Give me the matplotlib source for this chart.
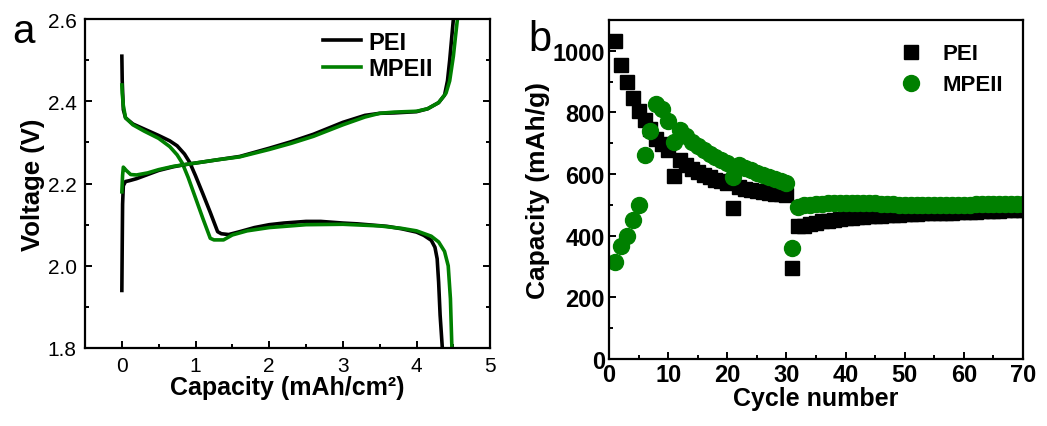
import matplotlib
matplotlib.use("Agg")
import matplotlib.pyplot as plt
from matplotlib.ticker import MultipleLocator

plt.rcParams['font.family'] = ['Liberation Sans', 'DejaVu Sans']

GREEN = '#008000'

# panel a: voltage profiles
pei_dis_cap = [0, 0.005, 0.02, 0.05, 0.15, 0.3, 0.5, 0.65, 0.75, 0.85, 0.92, 1.0, 1.1, 1.2, 1.3, 1.35,
               1.45, 1.6, 1.8, 2.0, 2.2, 2.5, 2.7, 3.0, 3.2, 3.6, 3.8, 4.0, 4.1, 4.2, 4.25, 4.28, 4.30, 4.32, 4.35]
pei_dis_v = [2.51, 2.45, 2.38, 2.36, 2.345, 2.333, 2.317, 2.304, 2.292, 2.272, 2.252, 2.219, 2.175, 2.130, 2.083, 2.078,
             2.076, 2.083, 2.093, 2.100, 2.104, 2.108, 2.108, 2.104, 2.102, 2.096, 2.090, 2.082, 2.074, 2.062, 2.045, 2.017, 1.96, 1.88, 1.8]

mpe_dis_cap = [0, 0.005, 0.02, 0.05, 0.15, 0.3, 0.5, 0.65, 0.75, 0.82, 0.9, 1.0, 1.1, 1.2, 1.25, 1.38,
               1.5, 1.7, 2.0, 2.5, 3.0, 3.5, 3.8, 4.0, 4.2, 4.3, 4.38, 4.43, 4.46, 4.48]
mpe_dis_v = [2.44, 2.42, 2.39, 2.36, 2.343, 2.328, 2.310, 2.290, 2.270, 2.250, 2.215, 2.165, 2.115, 2.067, 2.063, 2.063,
             2.075, 2.085, 2.093, 2.100, 2.101, 2.097, 2.091, 2.085, 2.072, 2.058, 2.035, 2.0, 1.92, 1.8]

pei_chg_cap = [0, 0.005, 0.01, 0.02, 0.05, 0.1, 0.2, 0.35, 0.5, 0.7, 0.85, 1.0, 1.3, 1.6, 2.0, 2.3, 2.6,
               3.0, 3.3, 3.5, 3.7, 4.0, 4.15, 4.3, 4.38, 4.42, 4.45, 4.48, 4.50]
pei_chg_v = [1.94, 2.05, 2.15, 2.195, 2.205, 2.207, 2.212, 2.222, 2.232, 2.241, 2.246, 2.250, 2.258, 2.266, 2.286, 2.302, 2.320,
             2.349, 2.366, 2.371, 2.372, 2.375, 2.382, 2.397, 2.415, 2.45, 2.50, 2.56, 2.60]

mpe_chg_cap = [0, 0.01, 0.02, 0.06, 0.12, 0.2, 0.35, 0.5, 0.7, 0.85, 1.0, 1.3, 1.6, 2.0, 2.3, 2.6,
               3.0, 3.3, 3.5, 3.7, 4.0, 4.15, 4.3, 4.4, 4.45, 4.5, 4.53, 4.555]
mpe_chg_v = [2.18, 2.22, 2.24, 2.232, 2.222, 2.221, 2.226, 2.234, 2.242, 2.246, 2.250, 2.258, 2.265, 2.283, 2.298, 2.315,
             2.343, 2.362, 2.371, 2.374, 2.376, 2.382, 2.397, 2.42, 2.45, 2.51, 2.56, 2.60]

# panel b: cycling
cycles = list(range(1, 71))
pei_cap = [1032, 954, 900, 846, 803, 774, 745, 715, 699, 677,
           595, 645, 628, 615, 605, 597, 589, 582, 576, 570,
           489, 558, 553, 549, 545, 542, 539, 536, 534, 532,
           296, 430, 433, 438, 442, 446, 449, 452, 454, 456,
           458, 460, 461, 463, 464, 465, 466, 467, 468, 469,
           470, 471, 472, 472, 473, 474, 475, 475, 476, 477,
           478, 478, 479, 480, 480, 481, 482, 482, 483, 484]
mpe_cap = [316, 366, 398, 452, 500, 662, 739, 826, 810, 771,
           703, 742, 722, 705, 690, 677, 665, 654, 644, 635,
           590, 629, 620, 612, 604, 597, 590, 584, 577, 571,
           360, 493, 498, 501, 503, 504, 505, 505, 506, 506,
           506, 506, 506, 505, 505, 504, 503, 502, 501, 500,
           500, 499, 499, 499, 499, 499, 500, 500, 500, 501,
           501, 502, 502, 503, 503, 503, 503, 503, 503, 503]

fig = plt.figure(figsize=(10.47, 4.27), dpi=100)

# ---- panel a
ax1 = fig.add_axes([0.0812, 0.1827, 0.387, 0.770])
ax1.plot(pei_dis_cap, pei_dis_v, color='black', lw=2.6, label='PEI')
ax1.plot(mpe_dis_cap, mpe_dis_v, color=GREEN, lw=2.6, label='MPEII')
ax1.plot(pei_chg_cap, pei_chg_v, color='black', lw=2.6)
ax1.plot(mpe_chg_cap, mpe_chg_v, color=GREEN, lw=2.6)
ax1.set_xlim(-0.5, 5)
ax1.set_ylim(1.8, 2.6)
ax1.xaxis.set_major_locator(MultipleLocator(1))
ax1.xaxis.set_minor_locator(MultipleLocator(0.5))
ax1.yaxis.set_major_locator(MultipleLocator(0.2))
ax1.yaxis.set_minor_locator(MultipleLocator(0.1))
ax1.tick_params(which='both', direction='in', right=True, width=1.4, labelsize=15, pad=6)
ax1.tick_params(which='major', length=5)
ax1.tick_params(which='minor', length=3)
for s in ax1.spines.values():
    s.set_linewidth(1.6)
ax1.set_xlabel('Capacity (mAh/cm²)', fontsize=18, fontweight='bold', labelpad=0)
ax1.set_ylabel('Voltage (V)', fontsize=18.5, fontweight='bold', labelpad=2)
ax1.legend(loc='upper right', bbox_to_anchor=(0.91, 1.03), frameon=False,
           prop={'weight': 'bold', 'size': 17}, handlelength=1.6, handletextpad=0.3, labelspacing=0.15)
fig.text(0.012, 0.90, 'a', fontsize=29)

# ---- panel b
ax2 = fig.add_axes([0.5817, 0.157, 0.3954, 0.794])
ax2.plot(cycles, pei_cap, 's', color='black', ms=9.6, label='PEI')
ax2.plot(cycles, mpe_cap, 'o', color=GREEN, ms=11.5, label='MPEII')
ax2.set_xlim(0, 70)
ax2.set_ylim(0, 1100)
ax2.xaxis.set_major_locator(MultipleLocator(10))
ax2.xaxis.set_minor_locator(MultipleLocator(5))
ax2.yaxis.set_major_locator(MultipleLocator(200))
ax2.yaxis.set_minor_locator(MultipleLocator(100))
ax2.tick_params(which='both', direction='in', width=1.4, labelsize=17, pad=3)
ax2.tick_params(which='major', length=5)
ax2.tick_params(which='minor', length=3)
for lab in ax2.get_xticklabels() + ax2.get_yticklabels():
    lab.set_fontweight('bold')
for s in ax2.spines.values():
    s.set_linewidth(1.6)
ax2.set_xlabel('Cycle number', fontsize=18, fontweight='bold', labelpad=0)
ax2.set_ylabel('Capacity (mAh/g)', fontsize=19, fontweight='bold', labelpad=2)
ax2.legend(loc='upper right', bbox_to_anchor=(1.0, 0.99), frameon=False,
           prop={'weight': 'bold', 'size': 16}, handletextpad=0.4, labelspacing=0.45)
fig.text(0.505, 0.88, 'b', fontsize=30)

fig.savefig('out.png', dpi=100)
